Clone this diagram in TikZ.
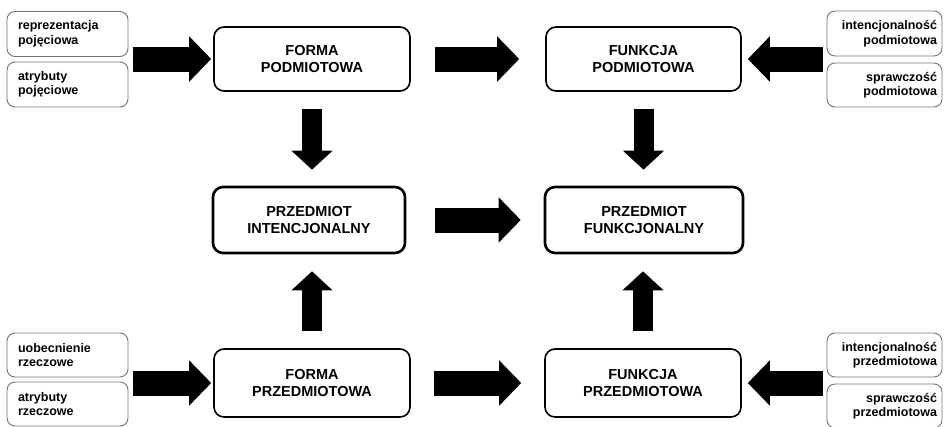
\documentclass[tikz,border=0pt]{standalone}
\usepackage{fontspec}
\setmainfont{Liberation Sans}
\usetikzlibrary{arrows.meta,calc}
\tikzset{
 smallbox/.style={draw=black!55, line width=0.9pt, rounded corners=8pt, minimum height=45pt, inner sep=0pt, font=\bfseries\fontsize{12.5}{14.5}\selectfont},
 smallL/.style={smallbox, minimum width=121pt, text width=99pt, align=left},
 smallR/.style={smallbox, minimum width=115pt, text width=105pt, align=right},
 mainbox/.style={draw=black, line width=1.6pt, rounded corners=10pt, align=center, inner sep=0pt, font=\bfseries\fontsize{14.5}{17}\selectfont},
 midbox/.style={mainbox, line width=2.6pt},
 fatH/.style={line width=25pt, -{Triangle[length=22pt,width=44pt]}},
 fatV/.style={line width=20pt, -{Triangle[length=19pt,width=40pt]}},
}
\begin{document}
\begin{tikzpicture}[x=1pt,y=-1pt]
\useasboundingbox (0,0) rectangle (944,426);
\clip (0,0) rectangle (944,426);
% left top
\node[smallL] (rep) at (67.5,34) {reprezentacja\\pojęciowa};
\node[smallL] (atr1) at (67.5,84.5) {atrybuty\\pojęciowe};
% main top
\node[mainbox, minimum width=196pt, minimum height=64pt] (forma1) at (312,59) {FORMA\\PODMIOTOWA};
\node[mainbox, minimum width=195pt, minimum height=64pt] (funk1) at (643.5,59) {FUNKCJA\\PODMIOTOWA};
% right top
\node[smallR] (int1) at (884.5,33.5) {intencjonalność\\podmiotowa};
\node[smallR, minimum height=44pt] (spr1) at (884.5,85) {sprawczość\\podmiotowa};
% middle
\node[midbox, minimum width=192pt, minimum height=66pt] (pint) at (309,220) {PRZEDMIOT\\INTENCJONALNY};
\node[midbox, minimum width=198pt, minimum height=66pt] (pfunk) at (644,220) {PRZEDMIOT\\FUNKCJONALNY};
% bottom
\node[smallL, minimum height=44pt] (uob) at (67.5,355) {uobecnienie\\rzeczowe};
\node[smallL, minimum height=44pt] (atr2) at (67.5,404) {atrybuty\\rzeczowe};
\node[mainbox, minimum width=196pt, minimum height=68pt] (forma2) at (312,383) {FORMA\\PRZEDMIOTOWA};
\node[mainbox, minimum width=196pt, minimum height=68pt] (funk2) at (643,383) {FUNKCJA\\PRZEDMIOTOWA};
\node[smallR, minimum height=44pt] (int2) at (884.5,355) {intencjonalność\\przedmiotowa};
\node[smallR, minimum height=44pt] (spr2) at (884.5,406) {sprawczość\\przedmiotowa};
% horizontal arrows
\draw[fatH] ([xshift=5pt]rep.south east |- forma1.west) -- ([xshift=-2pt]forma1.west);
\draw[fatH] ([xshift=24pt]forma1.east) -- ([xshift=-26pt]funk1.west);
\draw[fatH] ([xshift=-4pt]int1.south west |- funk1.east) -- ([xshift=6pt]funk1.east);
\draw[fatH] ([xshift=29pt]pint.east) -- ([xshift=-23pt]pfunk.west);
\draw[fatH] ([xshift=5pt]uob.south east |- forma2.west) -- ([xshift=-2pt]forma2.west);
\draw[fatH] ([xshift=23pt]forma2.east) -- ([xshift=-23pt]funk2.west);
\draw[fatH] ([xshift=-4pt]int2.south west |- funk2.east) -- ([xshift=6pt]funk2.east);
% vertical arrows
\draw[fatV] ($(forma1.south)+(0,17)$) -- ($(forma1.south |- pint.north)+(0,-16)$);
\draw[fatV] ($(funk1.south)+(0,17)$) -- ($(funk1.south |- pfunk.north)+(0,-16)$);
\draw[fatV] ($(forma2.north)+(0,-17)$) -- ($(forma2.north |- pint.south)+(0,17)$);
\draw[fatV] ($(funk2.north)+(0,-17)$) -- ($(funk2.north |- pfunk.south)+(0,17)$);
\end{tikzpicture}
\end{document}
